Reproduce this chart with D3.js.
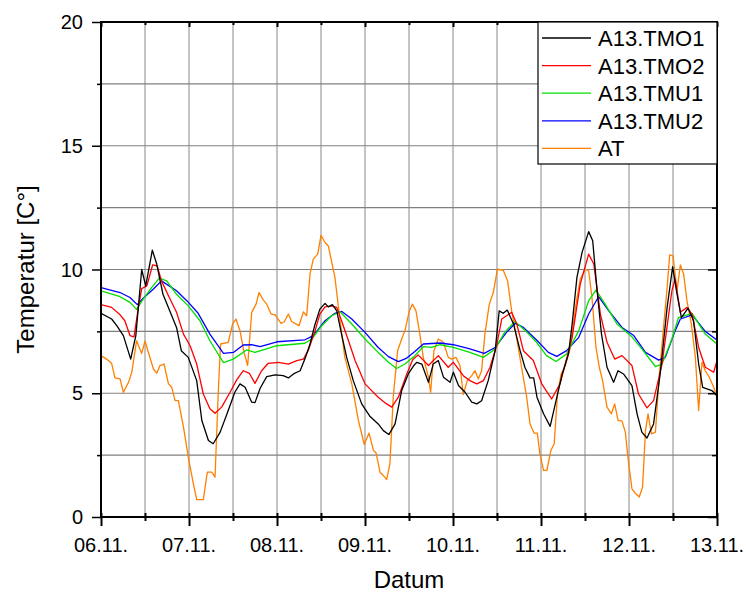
<!DOCTYPE html>
<html>
<head>
<meta charset="utf-8">
<script src="https://cdn.jsdelivr.net/npm/d3@7"></script>
<style>
  body { margin: 0; background: #fff; }
  text { font-family: "Liberation Sans", Arial, sans-serif; fill: #000; }
</style>
</head>
<body>
<svg id="chart"></svg>
<script>
// x tick labels (one per day), values are [hour since 06.11. 00:00, temperature]
const dayLabels = ["06.11.", "07.11.", "08.11.", "09.11.", "10.11.", "11.11.", "12.11.", "13.11."];
const yTicks = [0, 5, 10, 15, 20];

const tmo1 = [
  [0, 8.23], [2.9, 8.0], [4.3, 7.73], [6.1, 7.33], [8.1, 6.38], [9.5, 7.33], [11.1, 10.0], [12.2, 9.34],
  [14, 10.78], [15.2, 10.22], [16.9, 9.0], [18.8, 8.31], [20.6, 7.66], [21.9, 6.72], [23.8, 6.45],
  [26.1, 5.51], [27.5, 3.9], [29.3, 3.09], [30.6, 2.96], [32.5, 3.43], [34.7, 4.3], [36.5, 5.04],
  [37.9, 5.38], [39.3, 5.24], [41.1, 4.64], [42, 4.62], [43.4, 5.2], [45.2, 5.67], [47.5, 5.74],
  [49.7, 5.71], [51.1, 5.62], [52.5, 5.78], [54.3, 5.91], [55.6, 6.38], [57, 6.99], [58.4, 7.8],
  [59.7, 8.4], [61.1, 8.63], [62, 8.49], [63.1, 8.58], [64.3, 8.33], [65.6, 7.39], [67, 6.45],
  [68.8, 5.51], [71.1, 4.57], [73.4, 4.06], [75.6, 3.76], [77, 3.49], [78.5, 3.33], [80.2, 3.76],
  [82, 5.11], [83.8, 5.78], [85.2, 6.1], [86.1, 6.25], [87.5, 6.18], [89.3, 5.44], [90.6, 6.18],
  [92, 6.32], [93.4, 5.65], [95.2, 5.44], [96.1, 5.85], [97.5, 5.31], [99.3, 5.04], [101.1, 4.64],
  [102.5, 4.57], [103.8, 4.7], [105.6, 5.51], [107.5, 6.72], [108.6, 8.33], [109.7, 8.23],
  [110.8, 8.36], [112.5, 7.8], [114.3, 6.72], [115.6, 6.05], [117, 5.62], [118, 5.62], [118.9, 4.84],
  [120.7, 4.17], [122.5, 3.66], [123.9, 4.57], [125.8, 5.78], [127.5, 6.59], [128.5, 7.8],
  [129.8, 9.68], [131.2, 10.69], [133, 11.53], [134.1, 11.16], [135.3, 9.14], [136.5, 7.39],
  [138, 6.05], [139.8, 5.44], [141, 5.91], [142.5, 5.78], [144.8, 5.31], [146.2, 4.17], [147.5, 3.43],
  [148.9, 3.19], [150.7, 3.76], [152.5, 5.78], [154.4, 8.47], [155.9, 10.11], [157.1, 9.0],
  [158.3, 8.06], [160.1, 8.44], [161.6, 7.93], [163, 6.18], [164.1, 5.24], [166.6, 5.11], [168, 4.9]
];

const tmo2 = [
  [0, 8.58], [2.9, 8.47], [5.2, 8.17], [6.5, 7.93], [7.9, 7.33], [9, 7.28], [10.2, 8.47], [11.1, 9.23],
  [12.5, 9.34], [14.1, 10.19], [15.3, 10.15], [16.5, 9.54], [18.4, 8.94], [20.6, 8.27], [22.5, 7.39],
  [24.3, 6.92], [26.1, 6.18], [27.9, 4.97], [29.7, 4.37], [31.1, 4.19], [32.9, 4.44], [35.2, 5.04],
  [37, 5.54], [38.8, 5.91], [40.5, 5.8], [42, 5.4], [43.8, 5.91], [45.6, 6.21], [48.4, 6.25],
  [51.1, 6.18], [53.4, 6.32], [55.2, 6.38], [56.5, 6.72], [58.4, 7.53], [59.7, 8.2], [61.1, 8.49],
  [62.9, 8.53], [64.3, 8.47], [65.6, 7.93], [67.5, 7.12], [69.3, 6.32], [72, 5.38], [75.6, 4.84],
  [77.9, 4.57], [79.3, 4.44], [81.1, 4.84], [83.4, 5.78], [85, 6.35], [86.5, 6.55], [89.3, 6.12],
  [92, 6.52], [94.7, 6.05], [96.1, 6.25], [98.8, 5.71], [100.6, 5.51], [102.5, 5.38], [104.3, 5.51],
  [106.1, 6.05], [107.9, 6.92], [109.3, 8.0], [112, 8.27], [113.4, 7.8], [115.2, 6.72], [117.9, 6.32],
  [120.2, 5.38], [122.9, 4.77], [125.2, 5.38], [126.6, 6.18], [128.5, 7.26], [130.7, 9.41],
  [133, 10.62], [134.4, 10.22], [136.2, 8.2], [138, 7.06], [140.1, 6.38], [142.1, 6.52], [144.8, 6.12],
  [146.6, 4.97], [148.9, 4.41], [150.7, 4.7], [153, 6.18], [155.7, 9.14], [156.6, 9.61], [158, 8.27],
  [159.8, 8.47], [161.2, 8.2], [163, 6.85], [164.8, 6.05], [167.1, 5.85], [168, 6.32]
];

const tmu1 = [
  [0, 9.14], [5.2, 8.9], [7.9, 8.67], [9.7, 8.39], [11.5, 8.8], [13.8, 9.27], [15.9, 9.65], [17.9, 9.54],
  [20.6, 9.0], [23.8, 8.53], [27, 7.93], [29.7, 7.12], [33.4, 6.24], [36.1, 6.38], [39.7, 6.75],
  [42, 6.65], [48, 6.92], [55.6, 7.02], [57.5, 7.19], [60.2, 7.73], [62.9, 8.13], [65.2, 8.29],
  [68.4, 7.8], [72, 7.19], [75.6, 6.65], [78.4, 6.25], [80.6, 6.0], [82.9, 6.18], [85.6, 6.52],
  [87.9, 6.88], [90.2, 6.85], [92.5, 6.96], [96.1, 6.85], [100.6, 6.65], [104.3, 6.45], [107.5, 6.79],
  [110.1, 7.46], [112.9, 7.9], [115.6, 7.55], [118.8, 7.06], [121.5, 6.52], [124.1, 6.28], [127, 6.59],
  [130.3, 7.53], [133, 8.74], [135, 9.17], [137.5, 8.6], [140.7, 7.8], [144.8, 7.28], [147.5, 6.79],
  [151.2, 6.08], [153, 6.18], [155.7, 7.19], [157.5, 8.06], [161.2, 8.23], [164.8, 7.39], [168, 6.99]
];

const tmu2 = [
  [0, 9.27], [5.2, 9.07], [7.9, 8.87], [9.9, 8.58], [11.5, 8.84], [14.3, 9.21], [16.5, 9.54],
  [20.6, 9.14], [23.4, 8.74], [26.5, 8.23], [29.7, 7.39], [33.4, 6.61], [36.1, 6.65], [38.8, 6.95],
  [41.1, 6.96], [43.4, 6.88], [48, 7.08], [55.6, 7.16], [57.9, 7.33], [61.1, 7.93], [63.8, 8.23],
  [65.6, 8.31], [68.4, 8.0], [72, 7.46], [75.6, 6.85], [78.4, 6.48], [81.1, 6.28], [83.4, 6.42],
  [85.6, 6.69], [87.9, 6.99], [92.5, 7.03], [96.1, 6.96], [100.6, 6.79], [104.5, 6.61], [107.5, 6.85],
  [110.6, 7.46], [112.9, 7.82], [115.2, 7.66], [118.8, 7.15], [122, 6.65], [124.3, 6.49], [127, 6.72],
  [130.3, 7.26], [133, 8.2], [135.7, 8.9], [138.5, 8.33], [142.1, 7.66], [145.3, 7.33], [148.5, 6.65],
  [152.1, 6.34], [153.9, 6.45], [156.6, 7.53], [158, 8.0], [161.2, 8.17], [164.8, 7.5], [168, 7.15]
];

const at = [
  [0, 6.52], [1.5, 6.38], [2.9, 6.21], [3.8, 5.62], [5.2, 5.58], [6.1, 5.04], [7.5, 5.44], [8.4, 5.85],
  [9.7, 7.12], [11.1, 6.61], [12, 7.1], [14.3, 5.98], [15.2, 5.81], [16.1, 6.12], [17.2, 6.18],
  [18.4, 5.38], [19.3, 5.24], [20.2, 4.7], [21.1, 4.7], [22.5, 3.63], [23.8, 2.42], [25.2, 1.34],
  [26.1, 0.7], [27.9, 0.7], [29, 1.81], [30.2, 1.81], [31.1, 1.61], [32, 5.11], [32.6, 6.99],
  [34.7, 7.06], [35.9, 7.8], [36.8, 8.0], [37.9, 7.53], [39, 6.65], [40, 6.12], [41.1, 8.27],
  [42.3, 8.6], [43.1, 9.07], [44.3, 8.76], [45.2, 8.6], [46.4, 8.2], [47.5, 8.17], [49.1, 7.82],
  [50, 7.89], [51.1, 8.2], [52, 7.9], [54, 7.73], [55.2, 8.29], [56.1, 8.13], [57, 9.81], [57.9, 10.42],
  [59.1, 10.62], [60, 11.38], [61.1, 11.09], [62, 10.95], [63.8, 9.68], [65.2, 7.93], [66.5, 6.45],
  [68.4, 5.38], [70.2, 3.9], [71.8, 2.93], [73.1, 3.39], [74.3, 2.69], [75, 2.6], [76.1, 1.81], [77, 1.68],
  [77.9, 1.51], [78.8, 2.15], [79.7, 4.84], [80.9, 6.72], [82, 7.19], [82.9, 7.53], [84, 8.27],
  [84.9, 8.6], [85.9, 8.33], [86.8, 7.53], [87.9, 6.45], [89.3, 5.65], [89.9, 5.04], [90.8, 6.72],
  [92, 7.19], [93.4, 7.06], [94.7, 6.45], [95.6, 6.38], [96.8, 6.45], [97.9, 6.12], [98.8, 4.95],
  [99.9, 5.51], [101.1, 5.71], [102, 5.91], [102.9, 5.58], [103.8, 5.91], [104.7, 7.39], [105.9, 8.6],
  [107, 9.07], [108.1, 10.01], [109.7, 9.97], [110.9, 9.54], [112, 8.33], [113.4, 7.19], [114.7, 6.05],
  [116.1, 4.84], [117, 3.76], [118.1, 3.39], [119, 3.39], [119.7, 2.55], [120.7, 1.88], [121.6, 1.88],
  [122.7, 2.69], [123.6, 2.96], [124.5, 4.97], [125.5, 5.78], [126.6, 6.1], [128, 6.85], [129.4, 8.47],
  [130.7, 9.61], [132.1, 10.01], [133, 9.95], [133.9, 8.87], [135, 6.85], [135.9, 6.05], [136.8, 5.51],
  [138, 4.44], [139.2, 4.17], [140.1, 4.57], [141, 3.9], [142.1, 3.87], [143, 3.43], [143.7, 2.42],
  [144.8, 1.14], [145.7, 0.97], [146.8, 0.81], [147.7, 1.21], [148.5, 3.49], [149.2, 4.17],
  [150.1, 3.36], [151.2, 3.43], [152.3, 5.78], [153.5, 7.8], [154.4, 9.27], [155.1, 10.59],
  [156, 10.55], [157.1, 9.14], [158, 10.19], [158.9, 9.81], [159.8, 8.74], [161, 7.8], [162.1, 6.45],
  [163, 4.3], [163.9, 6.25], [164.8, 5.91], [165.9, 5.65], [167.1, 5.24], [168, 4.84]
];

const series = [
  { name: "A13.TMO1", color: "#000000", values: tmo1 },
  { name: "A13.TMO2", color: "#ff0000", values: tmo2 },
  { name: "A13.TMU1", color: "#00e000", values: tmu1 },
  { name: "A13.TMU2", color: "#0000ff", values: tmu2 },
  { name: "AT", color: "#ff8000", values: at }
];

const width = 746, height = 592;
const margin = { top: 22, right: 29, bottom: 75, left: 101 };
const innerW = width - margin.left - margin.right;
const innerH = height - margin.top - margin.bottom;

const svg = d3.select("#chart").attr("width", width).attr("height", height);

const x = d3.scaleLinear().domain([0, 168]).range([margin.left, margin.left + innerW]);
const y = d3.scaleLinear().domain([0, 20]).range([margin.top + innerH, margin.top]);

const halfDays = d3.range(0, 169, 12);
const quarterTicks = d3.range(0, 20.1, 2.5);

// grid
svg.append("g")
  .selectAll("line")
  .data(halfDays.filter((h) => h > 0 && h < 168))
  .enter()
  .append("line")
  .attr("x1", (d) => x(d)).attr("x2", (d) => x(d))
  .attr("y1", y(0)).attr("y2", y(20))
  .attr("stroke", "#b0b0b0")
  .attr("stroke-width", 1.5);

svg.append("g")
  .selectAll("line")
  .data(quarterTicks.filter((v) => v > 0 && v < 20))
  .enter()
  .append("line")
  .attr("x1", x(0)).attr("x2", x(168))
  .attr("y1", (d) => y(d)).attr("y2", (d) => y(d))
  .attr("stroke", "#808080")
  .attr("stroke-width", 1.2);

// lines
const line = d3.line().x((d) => x(d[0])).y((d) => y(d[1]));

svg.append("defs").append("clipPath").attr("id", "clip")
  .append("rect")
  .attr("x", margin.left).attr("y", margin.top)
  .attr("width", innerW).attr("height", innerH);

svg.append("g")
  .attr("clip-path", "url(#clip)")
  .selectAll("path")
  .data(series.slice().reverse())
  .enter()
  .append("path")
  .attr("d", (d) => line(d.values))
  .attr("fill", "none")
  .attr("stroke", (d) => d.color)
  .attr("stroke-width", 1.3)
  .attr("stroke-linejoin", "round");

// axes (frame with ticks)
const axBottom = svg.append("g").attr("transform", `translate(0,${y(0)})`)
  .call(d3.axisBottom(x).tickValues(halfDays).tickSize(0).tickFormat(""));
axBottom.select(".domain").remove();
axBottom.selectAll(".tick line")
  .attr("y1", -4)
  .attr("y2", (d) => (d % 24 === 0 ? 9 : 4))
  .attr("stroke", "#000").attr("stroke-width", 2);
axBottom.selectAll(".tick text").remove();

const axTop = svg.append("g").attr("transform", `translate(0,${y(20)})`)
  .call(d3.axisTop(x).tickValues(halfDays).tickSize(0).tickFormat(""));
axTop.select(".domain").remove();
axTop.selectAll(".tick line")
  .attr("y1", 0)
  .attr("y2", (d) => (d % 24 === 0 ? 5 : 3))
  .attr("stroke", "#000").attr("stroke-width", 2);

const axLeft = svg.append("g").attr("transform", `translate(${x(0)},0)`)
  .call(d3.axisLeft(y).tickValues(quarterTicks).tickSize(0).tickFormat(""));
axLeft.select(".domain").remove();
axLeft.selectAll(".tick line")
  .attr("x1", 0)
  .attr("x2", (d) => (d % 5 === 0 ? -9 : -4))
  .attr("stroke", "#000").attr("stroke-width", 1.5);

const axRight = svg.append("g").attr("transform", `translate(${x(168)},0)`)
  .call(d3.axisRight(y).tickValues(quarterTicks).tickSize(0).tickFormat(""));
axRight.select(".domain").remove();
axRight.selectAll(".tick line")
  .attr("x1", 0)
  .attr("x2", (d) => (d % 5 === 0 ? -9 : -5))
  .attr("stroke", "#000").attr("stroke-width", 1.5);

svg.append("rect")
  .attr("x", x(0)).attr("y", y(20))
  .attr("width", innerW).attr("height", innerH)
  .attr("fill", "none").attr("stroke", "#000").attr("stroke-width", 2);

// tick labels
svg.append("g")
  .selectAll("text")
  .data(dayLabels)
  .enter()
  .append("text")
  .attr("x", (d, i) => x(i * 24))
  .attr("y", y(0) + 35)
  .attr("text-anchor", "middle")
  .attr("font-size", 20)
  .text((d) => d);

svg.append("g")
  .selectAll("text")
  .data(yTicks)
  .enter()
  .append("text")
  .attr("x", x(0) - 18)
  .attr("y", (d) => y(d) + 7)
  .attr("text-anchor", "end")
  .attr("font-size", 20)
  .text((d) => d);

// axis titles
svg.append("text")
  .attr("x", x(84))
  .attr("y", 588)
  .attr("text-anchor", "middle")
  .attr("font-size", 24)
  .text("Datum");

svg.append("text")
  .attr("transform", `translate(34,${y(10)}) rotate(-90)`)
  .attr("text-anchor", "middle")
  .attr("font-size", 24)
  .text("Temperatur [C°]");

// legend
const legend = svg.append("g").attr("transform", `translate(538,${y(20)})`);
legend.append("rect")
  .attr("width", x(168) - 538).attr("height", 142)
  .attr("fill", "#fff").attr("stroke", "#000").attr("stroke-width", 1.2);

const rows = legend.selectAll("g.row")
  .data(series)
  .enter()
  .append("g")
  .attr("class", "row")
  .attr("transform", (d, i) => `translate(0,${16 + i * 27.6})`);
rows.append("line")
  .attr("x1", 4).attr("x2", 53)
  .attr("stroke", (d) => d.color)
  .attr("stroke-width", 1.3);
rows.append("text")
  .attr("x", 60).attr("y", 8)
  .attr("font-size", 22)
  .text((d) => d.name);
</script>
</body>
</html>
